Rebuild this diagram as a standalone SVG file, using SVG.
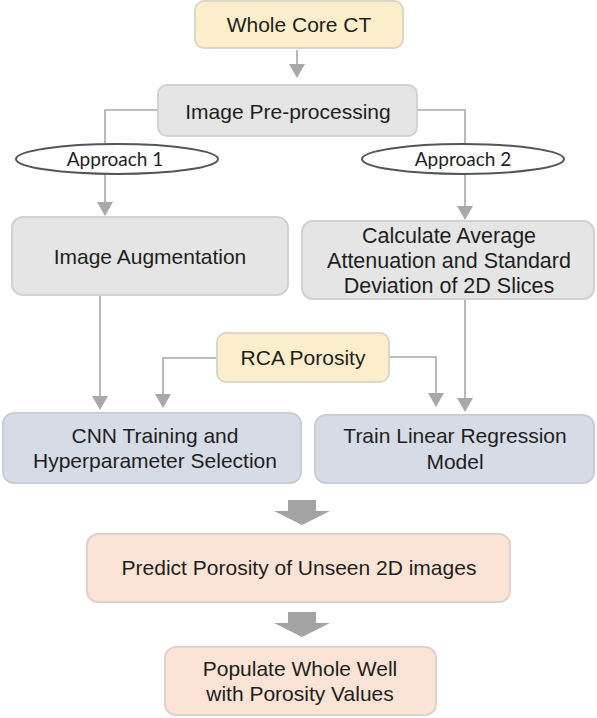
<svg xmlns="http://www.w3.org/2000/svg" width="597" height="718" viewBox="0 0 597 718">
<defs>
<style>
.t{font-family:"Liberation Sans",Arial,sans-serif;font-size:21px;fill:#1e1e1e;text-anchor:middle}
.a{font-family:Lato,"Open Sans",sans-serif;font-size:19px;fill:#1e1e1e;text-anchor:middle}
.yel{fill:#fdeecb;stroke:#dcd6c8;stroke-width:2}
.gry{fill:#e5e5e5;stroke:#d2d2d2;stroke-width:2}
.blu{fill:#d6dce5;stroke:#c9ced6;stroke-width:2}
.pch{fill:#fbe4d5;stroke:#ddd3cc;stroke-width:2}
.ell{fill:#ffffff;stroke:#555555;stroke-width:2}
.ln{fill:none;stroke:#a8a8a8;stroke-width:1.6}
.hd{fill:#a8a8a8}
.big{fill:#a3a3a3}
</style>
</defs>
<g id="connectors">
<path class="ln" d="M297,50 L297,64"/>
<path class="hd" d="M289,64 L305,64 L297,78 Z"/>
<path class="ln" d="M158,110 L105,110 L105,202"/>
<path class="hd" d="M97,202 L113,202 L105,216 Z"/>
<path class="ln" d="M417,110 L465,110 L465,206"/>
<path class="hd" d="M457,206 L473,206 L465,220 Z"/>
<path class="ln" d="M100,296 L100,396"/>
<path class="hd" d="M92,396 L108,396 L100,410 Z"/>
<path class="ln" d="M217,358 L163,358 L163,394"/>
<path class="hd" d="M155,394 L171,394 L163,408 Z"/>
<path class="ln" d="M389,357 L436,357 L436,393"/>
<path class="hd" d="M428,393 L444,393 L436,407 Z"/>
<path class="ln" d="M465,300 L465,398"/>
<path class="hd" d="M457,398 L473,398 L465,412 Z"/>
<path class="big" d="M288,500 L316,500 L316,511 L330,511 L302,525 L274,511 L288,511 Z"/>
<path class="big" d="M288,612 L316,612 L316,623 L330,623 L302,637 L274,623 L288,623 Z"/>
</g>
<g id="approach1">
<ellipse class="ell" cx="117" cy="159" rx="101" ry="15"/>
<text class="a" x="115" y="166">Approach 1</text>
</g>
<g id="approach2">
<ellipse class="ell" cx="463" cy="159" rx="101" ry="15"/>
<text class="a" x="463" y="166">Approach 2</text>
</g>
<g id="whole-core-ct">
<rect class="yel" x="195" y="1" width="208" height="47" rx="9"/>
<text class="t" x="299" y="32">Whole Core CT</text>
</g>
<g id="image-preprocessing">
<rect class="gry" x="158" y="85" width="259" height="51" rx="9"/>
<text class="t" x="288" y="119">Image Pre-processing</text>
</g>
<g id="image-augmentation">
<rect class="gry" x="12" y="217" width="276" height="78" rx="11"/>
<text class="t" x="150" y="264">Image Augmentation</text>
</g>
<g id="calculate-average">
<rect class="gry" x="302" y="221" width="292" height="78" rx="11"/>
<text class="t" x="449" y="243" style="font-size:21.5px">Calculate Average</text>
<text class="t" x="449" y="268" style="font-size:21.5px">Attenuation and Standard</text>
<text class="t" x="449" y="293" style="font-size:21.5px">Deviation of 2D Slices</text>
</g>
<g id="rca-porosity">
<rect class="yel" x="217" y="333" width="172" height="49" rx="9"/>
<text class="t" x="303" y="365">RCA Porosity</text>
</g>
<g id="cnn-training">
<rect class="blu" x="3" y="413" width="298" height="70" rx="11"/>
<text class="t" x="155" y="443">CNN Training and</text>
<text class="t" x="155" y="468">Hyperparameter Selection</text>
</g>
<g id="train-linear-regression">
<rect class="blu" x="315" y="415" width="279" height="68" rx="11"/>
<text class="t" x="455" y="443">Train Linear Regression</text>
<text class="t" x="455" y="469">Model</text>
</g>
<g id="predict-porosity">
<rect class="pch" x="87" y="534" width="423" height="68" rx="11"/>
<text class="t" x="299" y="575">Predict Porosity of Unseen 2D images</text>
</g>
<g id="populate-whole-well">
<rect class="pch" x="165" y="647" width="271" height="68" rx="11"/>
<text class="t" x="300" y="676">Populate Whole Well</text>
<text class="t" x="300" y="701">with Porosity Values</text>
</g>
</svg>
